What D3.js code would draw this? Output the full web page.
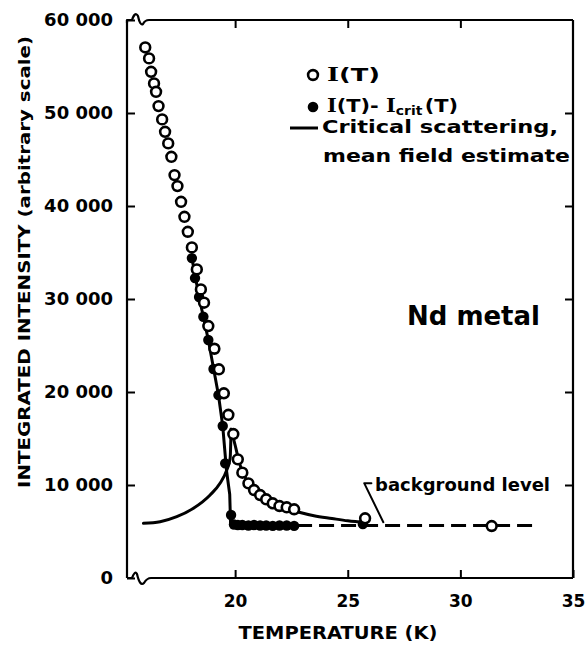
<!DOCTYPE html>
<html><head><meta charset="utf-8">
<script src="https://cdn.jsdelivr.net/npm/d3@7"></script>
<style>
body{margin:0;background:#fff;}
svg text{font-family:"DejaVu Sans",sans-serif;font-weight:bold;fill:#000;}
</style></head><body>
<svg id="c" width="587" height="645"></svg>
<script>
// ---- data ----
const openT = [16.01,16.18,16.27,16.40,16.49,16.60,16.76,16.89,17.03,17.17,17.31,17.44,17.60,17.75,17.90,18.08,18.30,18.48,18.62,18.81,19.08,19.28,19.50,19.70,19.92,20.12,20.32,20.59,20.84,21.11,21.38,21.67,21.97,22.29,22.62,25.77,31.39];
const openI = [57050,55870,54430,53180,52280,50740,49310,47980,46730,45290,43320,42140,40450,38840,37230,35550,33180,31030,29600,27090,24650,22440,19860,17550,15480,12760,11320,10180,9460,8920,8460,8030,7740,7600,7390,6420,5590];

const fillT = [18.08,18.22,18.40,18.59,18.81,19.04,19.26,19.45,19.56,19.82,19.95,20.12,20.32,20.59,20.84,21.11,21.38,21.67,21.97,22.29,22.62,25.67];
const fillI = [34400,32250,30210,28090,25590,22470,19670,16340,12330,6770,5750,5700,5700,5650,5700,5650,5650,5600,5650,5650,5600,5800];

// guide line through I(T)-Icrit(T)
const guideT = [18.08,18.40,18.81,19.26,19.45,19.62,19.76,19.80,22.70];
const guideI = [34400,30210,25590,19670,16340,11500,9000,5700,5700];

// critical scattering, mean field estimate (left and right branches)
const critLeftT = [15.93,16.67,17.41,18.15,18.89,19.33,19.63,19.78,19.82];
const critLeftI = [5880,6050,6590,7490,8920,10180,11610,12900,16000];
const critRightT = [19.82,20.0,20.2,20.4,20.7,21.0,21.4,21.8,22.3,22.8,23.5,24.3,25.0,25.8];
const critRightI = [16000,14300,12300,11000,10000,9200,8400,7900,7450,7100,6700,6400,6150,5950];

// background level (dashed)
const bgT = [22.75,33.25];
const bgI = [5650,5650];
// leader for "background level" label
const leaderT = [26.05,25.73,26.58];
const leaderI = [10200,10200,6000];

const yTicks = [0,10000,20000,30000,40000,50000,60000];
const xTicks = [20,25,30,35];

// ---- chart ----
const svg = d3.select("#c");
const L=127,R=573,T=20,B=578;
const x = d3.scaleLinear().domain([15.2,35]).range([L,R]);
const y = d3.scaleLinear().domain([0,60000]).range([B,T]);
const fmt = d3.formatLocale({decimal:".",thousands:"\u00a0",grouping:[3],currency:["",""]}).format(",d");

// frame with break marks
const frame = svg.append("g").attr("fill","none").attr("stroke","#000").attr("stroke-width",2.2).attr("stroke-linejoin","round");
frame.append("path").attr("d",`M${L},${B} L${L},${T}`);
frame.append("path").attr("d",`M${R},${B} L${R},${T}`);
frame.append("path").attr("d",`M${L},${T+3} L${L},${T} L${L+5},${T} Q${L+8},${T-9} ${L+11},${T-4} Q${L+13},${T+6} ${L+16},${T+4} Q${L+18},${T} ${L+22},${T} L${R},${T}`);
frame.append("path").attr("d",`M${L},${B} L${L+5},${B} Q${L+8},${B-8} ${L+10},${B-4} Q${L+13},${B+9} ${L+17},${B+5} Q${L+20},${B} ${L+24},${B} L${R},${B}`);

function styleAxis(g, fs){
  g.attr("font-family",null).attr("font-size",null);
  g.select(".domain").remove();
  g.selectAll(".tick line").attr("stroke","#000").attr("stroke-width",2);
  g.selectAll(".tick text").attr("font-size",fs).attr("fill","#000");
}
svg.append("g").attr("transform",`translate(${L},0)`)
  .call(d3.axisLeft(y).tickValues(yTicks).tickSize(-8).tickPadding(14).tickFormat(fmt))
  .call(g=>styleAxis(g,18));
svg.append("g").attr("transform",`translate(${R},0)`)
  .call(d3.axisRight(y).tickValues(yTicks.slice(1,-1)).tickSize(-8).tickFormat(""))
  .call(g=>styleAxis(g,17));
svg.append("g").attr("transform",`translate(0,${T})`)
  .call(d3.axisTop(x).tickValues(xTicks.slice(0,-1)).tickSize(-8).tickFormat(""))
  .call(g=>styleAxis(g,17));
svg.append("g").attr("transform",`translate(0,${B})`)
  .call(d3.axisBottom(x).tickValues(xTicks).tickSize(-8).tickPadding(17).tickFormat(d3.format("d")))
  .call(g=>styleAxis(g,17));

// axis titles
svg.append("text").attr("x",338).attr("y",639).attr("text-anchor","middle")
  .attr("font-size",17).attr("textLength",199).attr("lengthAdjust","spacingAndGlyphs")
  .text("TEMPERATURE (K)");
svg.append("text").attr("transform","translate(24,262) rotate(-90)").attr("text-anchor","middle")
  .attr("dy","0.36em").attr("font-size",16).attr("textLength",452).attr("lengthAdjust","spacingAndGlyphs")
  .text("INTEGRATED INTENSITY (arbitrary scale)");

// lines
const line = d3.line().x(d=>x(d[0])).y(d=>y(d[1]));
const smooth = d3.line().x(d=>x(d[0])).y(d=>y(d[1])).curve(d3.curveMonotoneX);
const lines = svg.append("g").attr("fill","none").attr("stroke","#000").attr("stroke-linecap","round").attr("stroke-linejoin","round");
lines.append("path").attr("stroke-width",3).attr("d",smooth(d3.zip(critLeftT,critLeftI)));
lines.append("path").attr("stroke-width",3).attr("d",smooth(d3.zip(critRightT,critRightI)));
lines.append("path").attr("stroke-width",3).attr("d",line(d3.zip(guideT,guideI)));
lines.append("path").attr("stroke-width",3).attr("stroke-dasharray","15,7").attr("stroke-linecap","butt").attr("d",line(d3.zip(bgT,bgI)));
lines.append("path").attr("stroke-width",2).attr("d",line(d3.zip(leaderT,leaderI)));

// points
svg.append("g").selectAll("circle").data(d3.zip(fillT,fillI)).join("circle")
  .attr("cx",d=>x(d[0])).attr("cy",d=>y(d[1])).attr("r",5.2).attr("fill","#000");
svg.append("g").selectAll("circle").data(d3.zip(openT,openI)).join("circle")
  .attr("cx",d=>x(d[0])).attr("cy",d=>y(d[1])).attr("r",4.9).attr("fill","#fff").attr("stroke","#000").attr("stroke-width",2.6);

// legend
const lg = svg.append("g");
lg.append("circle").attr("cx",313).attr("cy",75).attr("r",4.9).attr("fill","#fff").attr("stroke","#000").attr("stroke-width",2.6);
lg.append("circle").attr("cx",313).attr("cy",107).attr("r",5.3).attr("fill","#000");
lg.append("line").attr("x1",290).attr("x2",318).attr("y1",128).attr("y2",128).attr("stroke","#000").attr("stroke-width",3);
const t1 = lg.append("text").attr("x",327).attr("y",81).attr("font-size",18).attr("textLength",53).attr("lengthAdjust","spacingAndGlyphs");
t1.append("tspan").attr("font-family","DejaVu Serif").text("I");
t1.append("tspan").text("(T)");
const t2 = lg.append("text").attr("x",327).attr("y",112).attr("font-size",18);
t2.append("tspan").attr("font-family","DejaVu Serif").text("I");
t2.append("tspan").text("(T)- ");
t2.append("tspan").attr("font-family","DejaVu Serif").text("I");
t2.append("tspan").attr("font-size",12).attr("dy",3).text("crit");
t2.append("tspan").attr("dy",-3).attr("dx",2).text("(T)");
t2.attr("textLength",131).attr("lengthAdjust","spacingAndGlyphs");
lg.append("text").attr("x",322).attr("y",133).attr("font-size",17).attr("textLength",236).attr("lengthAdjust","spacingAndGlyphs").text("Critical scattering,");
lg.append("text").attr("x",323).attr("y",162).attr("font-size",17).attr("textLength",247).attr("lengthAdjust","spacingAndGlyphs").text("mean field estimate");

// annotations
svg.append("text").attr("x",407).attr("y",325).attr("font-size",27).attr("textLength",133).attr("lengthAdjust","spacingAndGlyphs").text("Nd metal");
svg.append("text").attr("x",375).attr("y",491).attr("font-size",17).attr("textLength",175).attr("lengthAdjust","spacingAndGlyphs").text("background level");
</script>
</body></html>
